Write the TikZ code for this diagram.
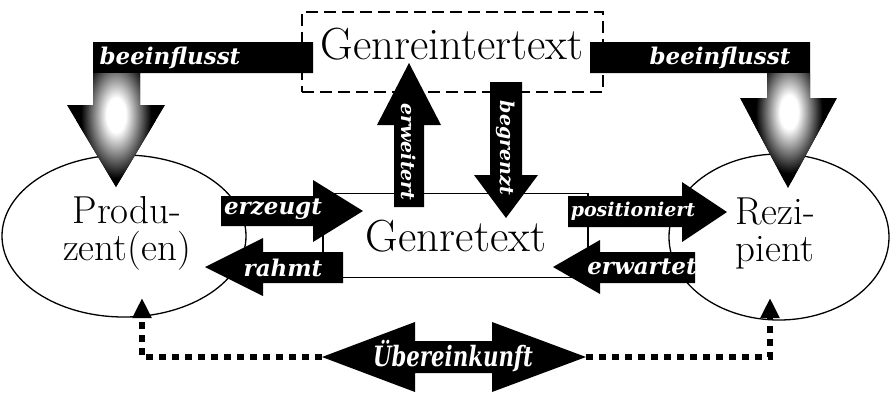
\documentclass[tikz,border=0pt]{standalone}
\usepackage{fontspec}
\newfontfamily\tagfont{DejaVu Serif}
\usetikzlibrary{arrows.meta,shapes.geometric}

% a soft white glow inside the black arrows
\pgfdeclareradialshading{glow}{\pgfpoint{0bp}{0bp}}{%
  color(0bp)=(white); color(6bp)=(white); color(22bp)=(black); color(50bp)=(black)}

\begin{document}
\begin{tikzpicture}[x=1pt,y=-1pt,
  frame/.style={draw, line width=1.3pt, inner sep=0pt},
  solidarrow/.style={fill=black},
  tag/.style={text=white, inner sep=0pt, font=\tagfont\bfseries\itshape\fontsize{#1}{#1}\selectfont},
  tag/.default=23,
  title/.style={inner sep=0pt, font=\fontsize{45}{45}\selectfont},
  party/.style={inner sep=0pt, align=center, font=\fontsize{39}{37}\selectfont},
  agree/.style={line width=6pt, dash pattern=on 7pt off 6pt,
    -{Triangle[length=20pt,width=18pt]}}
]
\useasboundingbox (0,0) rectangle (892,397);

% participants and the text in between
\node[frame, ellipse, minimum width=244pt, minimum height=162pt] (prodshape) at (124,236) {};
\node[frame, ellipse, minimum width=220pt, minimum height=166pt] (rezshape) at (779,237) {};
\node[frame, minimum width=265pt, minimum height=84pt] (textbox) at (455.5,235.5) {};
\node[draw, line width=1.5pt, dash pattern=on 12pt off 6pt, inner sep=0pt,
      minimum width=301pt, minimum height=80pt] (interbox) at (452.5,52) {};

\node[title] (inter) at (452,44) {Genreintertext};
\node[title] (genre) at (456,236) {Genretext};
\node[party] (prod) at (127,233) {Produ-\\zent(en)};
\node[party] (rez) at (775,233) {Rezi-\\pient};

% influence of the intertext on both sides
\fill[solidarrow] (93,42) -- (313,42) -- (313,73) -- (140,73) -- (140,105) -- (165,105)
  -- (116,187) -- (67,105) -- (93,105) -- cycle;
\fill[solidarrow] (590,42) -- (810,42) -- (810,98) -- (837,98) -- (788,188)
  -- (740,98) -- (767,98) -- (767,73) -- (590,73) -- cycle;
\begin{scope}
  \clip (93,73) -- (140,73) -- (140,105) -- (165,105) -- (116,187) -- (67,105) -- (93,105) -- cycle;
  \shade[shading=glow] (116,115) ellipse [x radius=40pt, y radius=72pt];
\end{scope}
\begin{scope}
  \clip (767,73) -- (810,73) -- (810,98) -- (837,98) -- (788,188) -- (740,98) -- (767,98) -- cycle;
  \shade[shading=glow] (789,112) ellipse [x radius=38pt, y radius=70pt];
\end{scope}
\node[tag] (inflL) at (170,58) {beeinflusst};
\node[tag] (inflR) at (720,58) {beeinflusst};

% between Genretext and Genreintertext
\fill[solidarrow] (394,207) -- (394,125) -- (377,125) -- (409,63) -- (441,125) -- (424,125)
  -- (424,207) -- cycle;
\fill[solidarrow] (490,82) -- (522,82) -- (522,175) -- (538,175) -- (506,218) -- (474,175)
  -- (490,175) -- cycle;
\node[tag=19, rotate=-90] (ext) at (409,152) {erweitert};
\node[tag=19, rotate=-90] (lim) at (506,148) {begrenzt};

% producer side
\fill[solidarrow] (221,196) -- (313,196) -- (313,180) -- (363,211) -- (313,242) -- (313,226)
  -- (221,226) -- cycle;
\fill[solidarrow] (343,252) -- (263,252) -- (263,238) -- (205,267) -- (263,296) -- (263,283)
  -- (343,283) -- cycle;
\node[tag] (make) at (273,209) {erzeugt};
\node[tag] (frame) at (283,268) {rahmt};

% recipient side
\fill[solidarrow] (568,196) -- (682,196) -- (682,182) -- (727,212) -- (682,242) -- (682,227)
  -- (568,227) -- cycle;
\fill[solidarrow] (695,252) -- (600,252) -- (600,240) -- (553,267) -- (600,294) -- (600,283)
  -- (695,283) -- cycle;
\node[tag=19] (place) at (633,211) {positioniert};
\node[tag] (expect) at (642,267) {erwartet};

% agreement
\fill[solidarrow] (322,357) -- (415,322) -- (415,341) -- (492,341) -- (492,322) -- (586,357)
  -- (492,392) -- (492,373) -- (415,373) -- (415,392) -- cycle;
\node[tag=28] (agreement) at (453,356) {\scalebox{0.76}[1]{Übereinkunft}};
\coordinate (agreeL) at (322,357);
\coordinate (agreeR) at (586,357);
\coordinate (prodfoot) at (142,298);
\coordinate (rezfoot) at (770,298);
\draw[agree] (agreeL) -| (prodfoot);
\draw[agree] (agreeR) -| (rezfoot);
\end{tikzpicture}
\end{document}
